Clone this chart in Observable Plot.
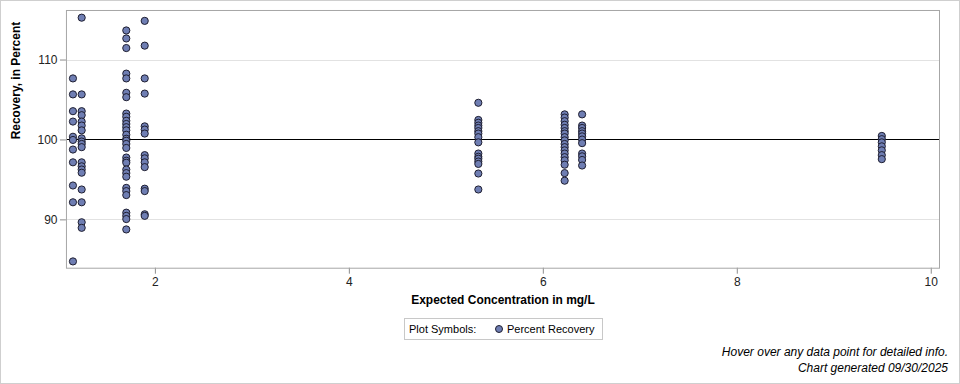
<!DOCTYPE html>
<html>
<head>
<meta charset="utf-8">
<script src="https://cdn.jsdelivr.net/npm/d3@7"></script>
<script src="https://cdn.jsdelivr.net/npm/@observablehq/plot@0.6"></script>
<style>
  html, body { margin: 0; padding: 0; background: #fff; }
  #page {
    position: relative; width: 958px; height: 382px;
    border: 1px solid #cfcfcf; background: #fff; overflow: hidden;
    font-family: "Liberation Sans", Arial, sans-serif; color: #000;
  }
  #chart { position: absolute; left: -1px; top: -1px; }
  #chart svg { font-family: "Liberation Sans", Arial, sans-serif; }
  #chart g[aria-label="x-axis tick"] path, #chart g[aria-label="y-axis tick"] path { stroke: #8c8c8c; }
  #chart g[aria-label="x-axis tick label"], #chart g[aria-label="y-axis tick label"] { fill: #222; }
  #chart g[aria-label="rule"] line, #chart g[aria-label="frame"] rect { shape-rendering: crispEdges; }
  #legend {
    position: absolute; left: 403px; top: 317px; width: 197px; height: 20px;
    border: 1px solid #c8c8c8; font-size: 11px; line-height: 20px; white-space: nowrap;
  }
  #legend .lab { position: absolute; left: 4px; top: 0; }
  #legend .sym { position: absolute; left: 90px; top: 6px; width: 6px; height: 6px;
    border-radius: 50%; background: #6f7eb3; border: 1px solid #1e1e30; }
  #legend .ser { position: absolute; left: 102px; top: 0; }
  .foot { position: absolute; right: 11px; font-size: 12px; font-style: italic; white-space: nowrap; }
</style>
</head>
<body>
<div id="page">
  <div id="chart"></div>
  <div id="legend"><span class="lab">Plot Symbols:</span><span class="sym"></span><span class="ser">Percent Recovery</span></div>
  <div class="foot" style="top:344px">Hover over any data point for detailed info.</div>
  <div class="foot" style="top:360px">Chart generated 09/30/2025</div>
</div>
<script>
// Expected concentrations (mg/L) of each sample group
const concentrations = [1.15, 1.24, 1.70, 1.89, 5.33, 6.22, 6.40, 9.49];

// Percent recovery read for each concentration group
const recovery_1_15 = [107.7, 105.7, 103.6, 102.3, 100.4, 100.0, 98.8, 97.2, 94.3, 92.2, 84.8];
const recovery_1_24 = [115.3, 105.7, 103.6, 103.1, 102.3, 101.8, 101.2, 100.2, 99.8, 99.5, 99.1,
                       97.2, 96.7, 96.3, 95.9, 93.8, 92.2, 89.7, 89.0];
const recovery_1_70 = [113.7, 112.7, 111.5, 108.3, 107.7, 105.9, 105.35, 103.3, 102.9, 102.4, 102.0,
                       101.6, 101.2, 100.65, 100.15, 99.9, 99.5, 99.0, 97.8, 97.4, 97.15, 96.3,
                       95.85, 95.4, 94.0, 93.6, 93.1, 90.9, 90.5, 90.1, 88.8];
const recovery_1_89 = [114.9, 111.8, 107.7, 105.8, 101.7, 101.3, 100.8, 98.1, 97.7, 97.2, 96.6,
                       93.9, 93.6, 90.7, 90.5];
const recovery_5_33 = [104.65, 102.5, 102.15, 101.8, 101.5, 101.1, 100.8, 100.35, 99.7, 98.3, 97.9,
                       97.65, 97.3, 97.0, 95.8, 93.8];
const recovery_6_22 = [103.2, 102.8, 102.35, 101.9, 101.5, 101.1, 100.8, 100.35, 99.95, 99.5, 99.1,
                       98.7, 98.3, 97.85, 97.45, 96.9, 95.85, 94.9];
const recovery_6_40 = [103.2, 101.8, 101.5, 101.1, 100.8, 100.45, 100.05, 99.6, 98.3, 97.95, 97.5, 96.8];
const recovery_9_49 = [100.5, 100.1, 99.7, 99.2, 98.7, 98.1, 97.6];

const xTicks = [2, 4, 6, 8, 10];
const yTicks = [90, 100, 110];
const gridValues = [90, 110];
const referenceValue = [100];
const xTitle = "Expected Concentration in mg/L";
const yTitle = "Recovery, in Percent";

const groups = [recovery_1_15, recovery_1_24, recovery_1_70, recovery_1_89,
                recovery_5_33, recovery_6_22, recovery_6_40, recovery_9_49];
const rows = groups.flatMap((vals, i) => vals.map(v => ({conc: concentrations[i], rec: v})));

const chart = Plot.plot({
  width: 960,
  height: 316,
  marginLeft: 66,
  marginRight: 20,
  marginTop: 10,
  marginBottom: 48,
  style: {fontSize: "12px", fontFamily: "'Liberation Sans', Arial, sans-serif", background: "transparent"},
  x: {domain: [1.083, 10.085], ticks: xTicks, tickSize: 6, tickPadding: 3, label: null},
  y: {domain: [83.95, 116.2], ticks: yTicks, tickSize: 6, tickPadding: 3, label: null},
  marks: [
    Plot.ruleY(gridValues, {stroke: "#e2e2e2", strokeWidth: 1}),
    Plot.ruleY(referenceValue, {stroke: "#000", strokeWidth: 1}),
    Plot.frame({stroke: "#a6a6a6"}),
    Plot.dot(rows, {x: "conc", y: "rec", r: 3.6, fill: "#6f7eb3", stroke: "#1e1e30", strokeWidth: 1, fillOpacity: 1}),
    Plot.text([xTitle], {frameAnchor: "bottom", dy: 36, fontWeight: "bold", fontSize: 12, fill: "#000"}),
    Plot.text([yTitle], {frameAnchor: "left", dx: -50, rotate: -90, fontWeight: "bold", fontSize: 12, fill: "#000"})
  ]
});
document.getElementById("chart").appendChild(chart);
</script>
</body>
</html>
